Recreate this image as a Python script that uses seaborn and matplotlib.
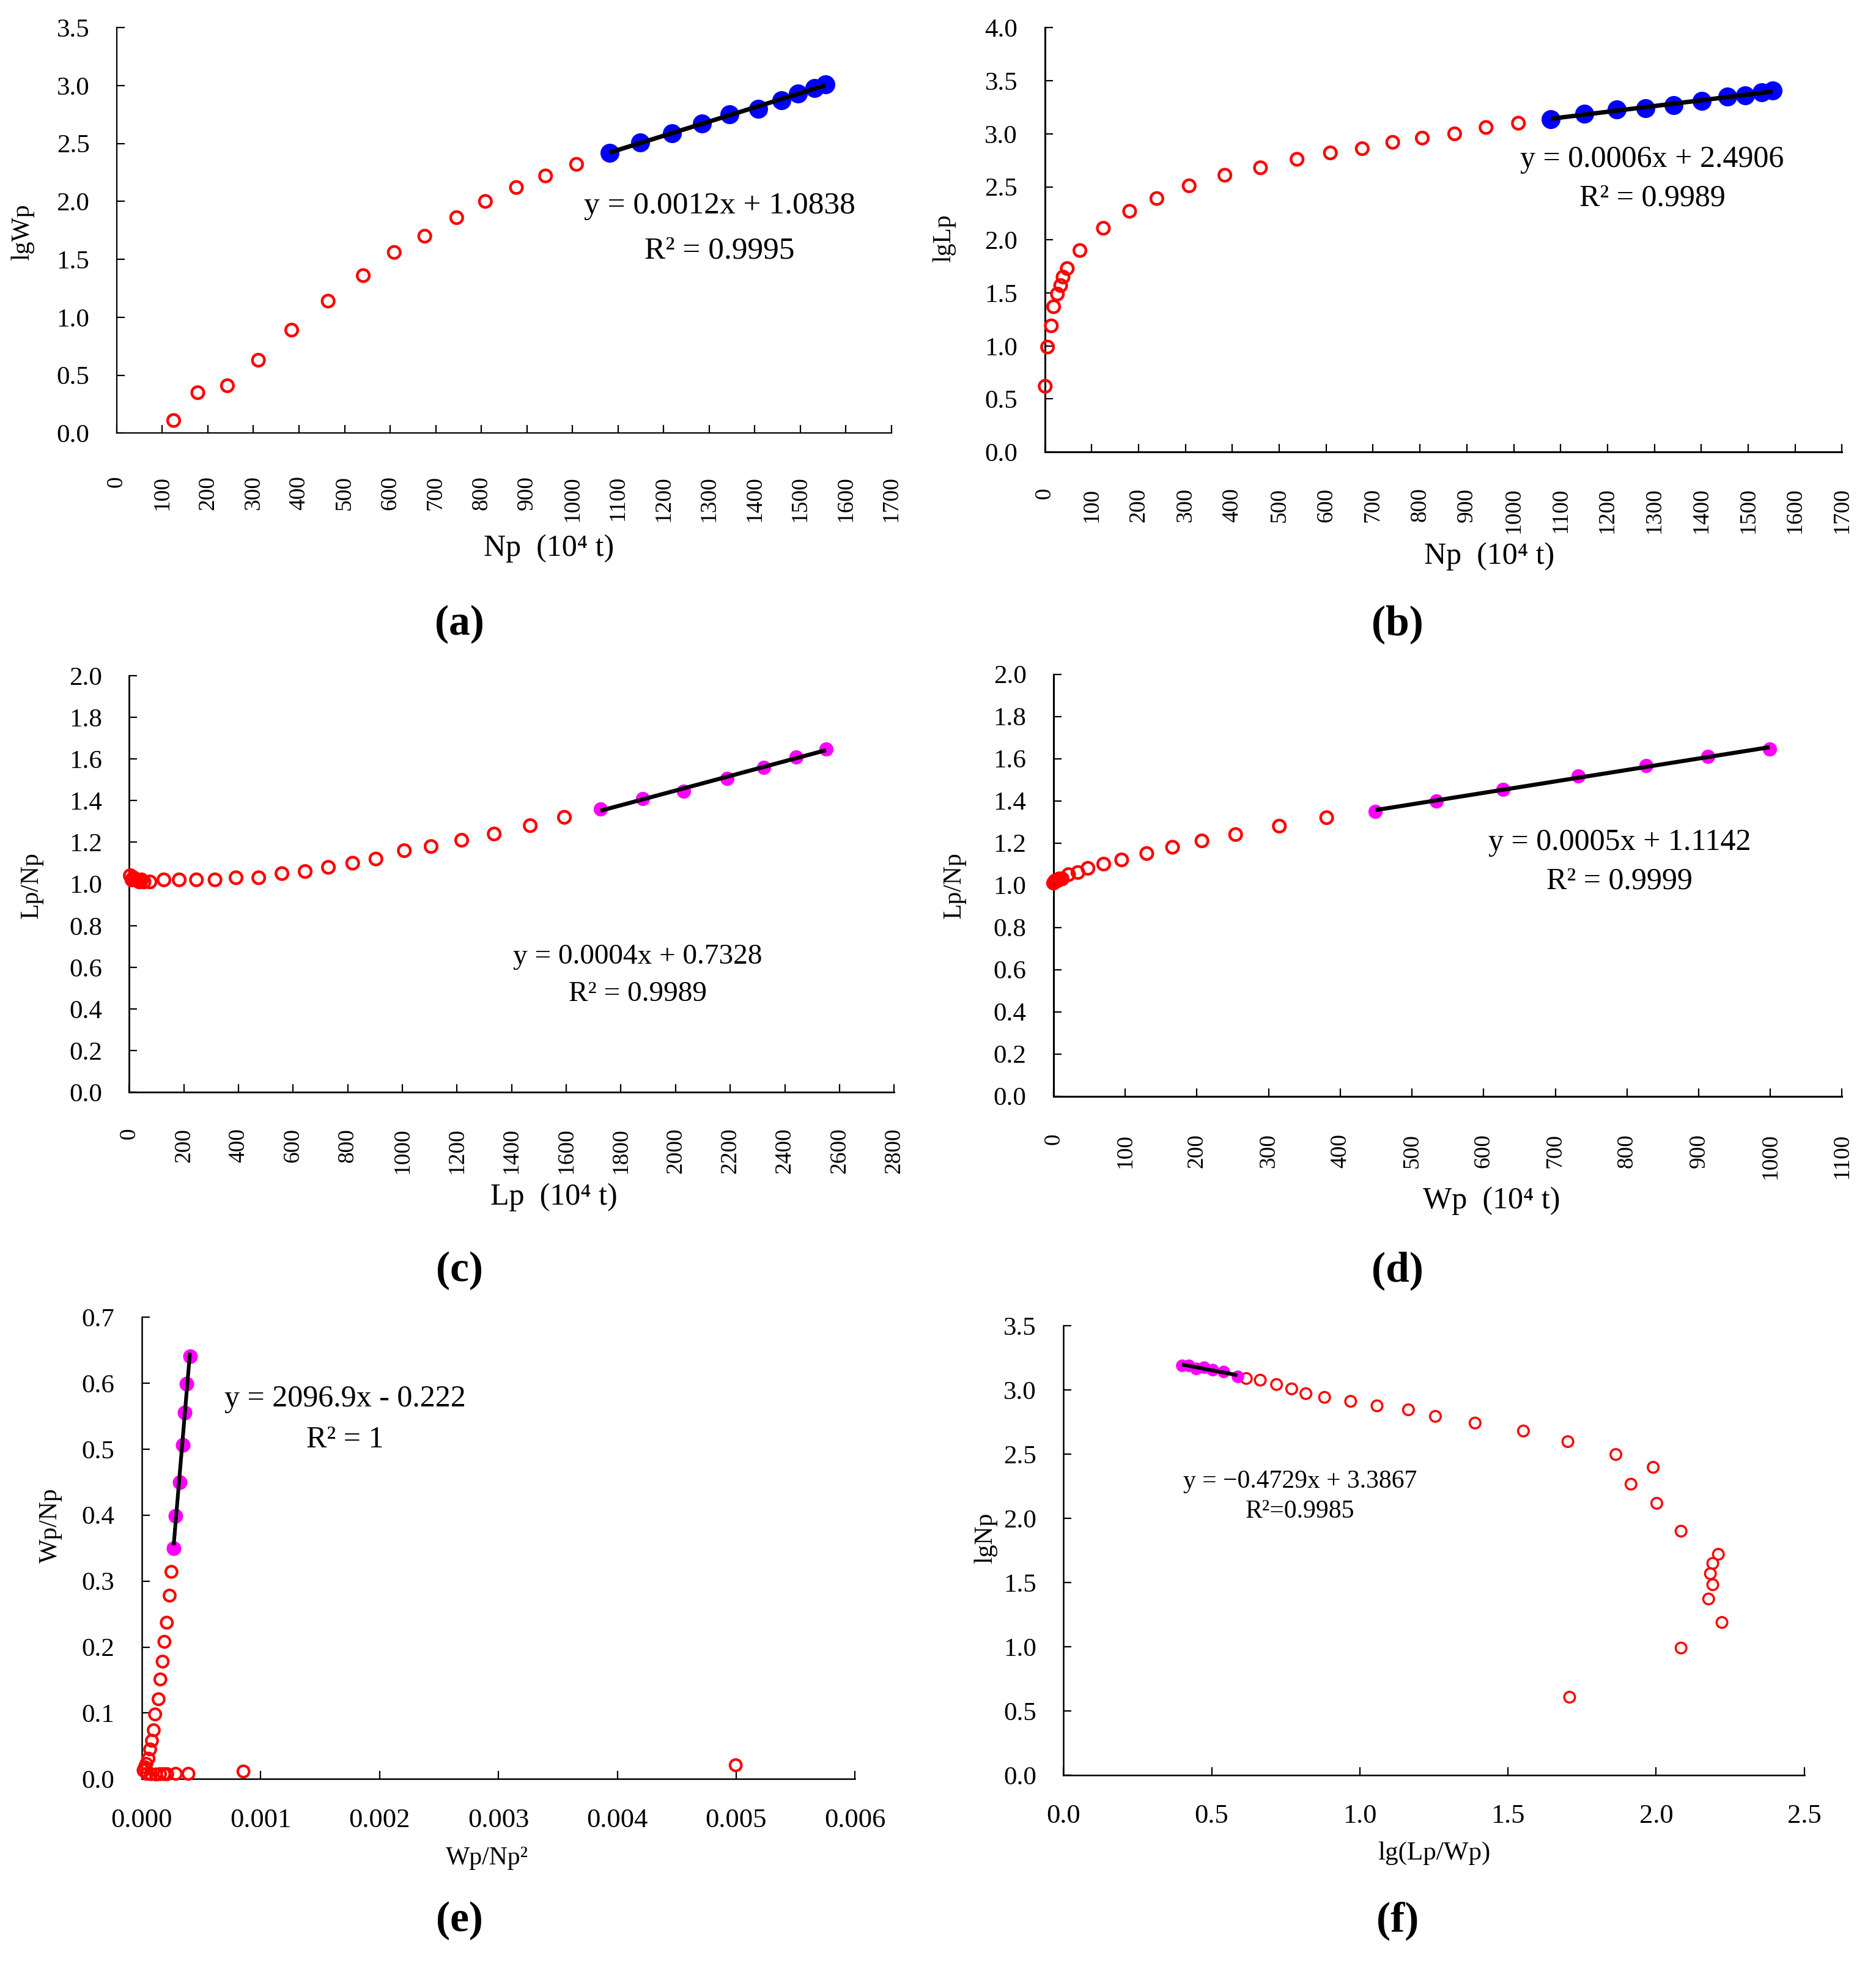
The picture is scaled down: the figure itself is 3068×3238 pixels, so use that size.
import numpy as np
import matplotlib
matplotlib.use("Agg")
import matplotlib.pyplot as plt
import seaborn as sns

# ---------------- data ----------------
# (a) lgWp vs Np
a_red_np = [125, 178, 243, 311, 384, 464, 541, 609, 676, 746, 809, 877, 941, 1009]
a_red_lgwp = [0.11, 0.35, 0.41, 0.63, 0.89, 1.14, 1.36, 1.56, 1.70, 1.86, 2.00, 2.12, 2.22, 2.32]
a_fit_np = [1082, 1149, 1218, 1284, 1345, 1407, 1459, 1495, 1531, 1555]
a_fit_lgwp = [2.42, 2.51, 2.59, 2.67, 2.75, 2.80, 2.87, 2.93, 2.98, 3.01]

# (b) lgLp vs Np
b_red_np = [1, 6, 14, 19, 27, 34, 39, 48, 75, 125, 181, 239, 308, 384, 460, 538, 609, 677, 742, 805, 874, 941, 1010]
b_red_lglp = [0.62, 0.99, 1.19, 1.37, 1.49, 1.57, 1.65, 1.73, 1.90, 2.11, 2.27, 2.39, 2.51, 2.61, 2.68, 2.76,
              2.82, 2.86, 2.92, 2.96, 3.00, 3.06, 3.10]
b_fit_np = [1079, 1150, 1219, 1281, 1341, 1401, 1456, 1494, 1528, 1552]
b_fit_lglp = [3.14, 3.19, 3.23, 3.24, 3.27, 3.31, 3.35, 3.36, 3.39, 3.41]

# (c) Lp/Np vs Lp
c_red_lp = [4, 10, 16, 23, 31, 37, 45, 54, 76, 127, 183, 246, 314, 391, 474, 559, 644, 729, 818, 903,
            1007, 1105, 1217, 1336, 1468, 1593]
c_red_ratio = [1.04, 1.02, 1.03, 1.02, 1.02, 1.01, 1.02, 1.01, 1.01, 1.02, 1.02, 1.02, 1.02, 1.03, 1.03,
               1.05, 1.06, 1.08, 1.10, 1.12, 1.16, 1.18, 1.21, 1.24, 1.28, 1.32]
c_fit_lp = [1725, 1880, 2029, 2188, 2322, 2441, 2551]
c_fit_ratio = [1.36, 1.41, 1.445, 1.507, 1.558, 1.609, 1.648]

# (d) Lp/Np vs Wp
d_red_wp = [0, 2, 5, 8, 12, 21, 34, 48, 70, 95, 130, 166, 207, 254, 315, 381]
d_red_ratio = [1.01, 1.02, 1.02, 1.03, 1.03, 1.05, 1.06, 1.08, 1.10, 1.12, 1.15, 1.18, 1.21, 1.24, 1.28, 1.32]
d_fit_wp = [449, 534, 627, 732, 827, 913, 999]
d_fit_ratio = [1.35, 1.40, 1.454, 1.517, 1.567, 1.609, 1.644]

# (e) Wp/Np vs Wp/Np^2
e_red_x = [0.000015, 0.000026, 0.000038, 0.000056, 0.000070, 0.000085, 0.000100, 0.000112, 0.000141,
           0.000156, 0.000175, 0.000190, 0.000210, 0.000234, 0.000249,
           0.000043, 0.000077, 0.000119, 0.000153, 0.000187, 0.000213, 0.000286, 0.000392,
           0.000855, 0.004996]
e_red_y = [0.013, 0.018, 0.023, 0.031, 0.045, 0.058, 0.074, 0.098, 0.121,
           0.151, 0.178, 0.208, 0.237, 0.278, 0.314,
           0.008, 0.0075, 0.007, 0.0075, 0.0075, 0.0075, 0.008, 0.008,
           0.0115, 0.021]
e_fit_x = [0.000268, 0.000283, 0.000317, 0.000346, 0.000361, 0.000375, 0.000405]
e_fit_y = [0.350, 0.399, 0.450, 0.506, 0.555, 0.599, 0.641]

# (f) lgNp vs lg(Lp/Wp)
f_red_x = [0.617, 0.664, 0.719, 0.770, 0.818, 0.881, 0.969, 1.058, 1.164, 1.255, 1.389, 1.552, 1.702,
           1.864, 1.990, 1.915, 2.002, 2.084, 2.210, 2.191, 2.183, 2.191, 2.177, 2.222, 2.084, 1.708]
f_red_y = [3.09, 3.077, 3.043, 3.009, 2.972, 2.943, 2.912, 2.877, 2.846, 2.795, 2.743, 2.681, 2.598,
           2.498, 2.398, 2.267, 2.118, 1.901, 1.721, 1.650, 1.570, 1.484, 1.373, 1.190, 0.991, 0.608]
f_fit_x = [0.400, 0.422, 0.448, 0.474, 0.503, 0.541, 0.587]
f_fit_y = [3.192, 3.192, 3.168, 3.176, 3.160, 3.142, 3.105]

equations = ["y = 0.0012x + 1.0838", "y = 0.0006x + 2.4906", "y = 0.0004x + 0.7328",
             "y = 0.0005x + 1.1142", "y = 2096.9x - 0.222", "y = \u22120.4729x + 3.3867"]
r2_texts = ["R\u00b2 = 0.9995", "R\u00b2 = 0.9989", "R\u00b2 = 0.9989",
            "R\u00b2 = 0.9999", "R\u00b2 = 1", "R\u00b2=0.9985"]
panel_tags = ["(a)", "(b)", "(c)", "(d)", "(e)", "(f)"]
x_titles = ["Np  (10\u2074 t)", "Np  (10\u2074 t)", "Lp  (10\u2074 t)", "Wp  (10\u2074 t)",
            "Wp/Np\u00b2", "lg(Lp/Wp)"]
y_titles = ["lgWp", "lgLp", "Lp/Np", "Lp/Np", "Wp/Np", "lgNp"]

# ---------------- style ----------------
sns.set_theme(style="white")
FAM = ["Liberation Serif", "DejaVu Serif"]
plt.rcParams["font.family"] = FAM
plt.rcParams["axes.edgecolor"] = "black"
plt.rcParams["xtick.color"] = "black"
plt.rcParams["ytick.color"] = "black"
plt.rcParams["text.color"] = "black"
plt.rcParams["axes.unicode_minus"] = True

fig = plt.figure(figsize=(15.34, 16.19), dpi=200)

# axes rectangles (figure fraction)
rects = [
    [0.0622, 0.7812, 0.4130, 0.2049],
    [0.5569, 0.7717, 0.4250, 0.2143],
    [0.0689, 0.4483, 0.4077, 0.2105],
    [0.5616, 0.4464, 0.4203, 0.2131],
    [0.0756, 0.1015, 0.3802, 0.2333],
    [0.5669, 0.1034, 0.3949, 0.2270],
]
axes = [fig.add_axes(r) for r in rects]

RED = "#FF0000"
BLUE = "#0000FF"
MAG = "#FF00FF"


def hollow(ax, x, y, s=50, lw=1.6):
    sns.scatterplot(x=x, y=y, ax=ax, marker="o", s=s, color=RED, facecolor="none",
                    edgecolor=RED, linewidth=lw, clip_on=False, zorder=3)


def filled(ax, x, y, color, s):
    sns.scatterplot(x=x, y=y, ax=ax, marker="o", s=s, color=color, edgecolor=color,
                    linewidth=0, clip_on=False, zorder=3)


def fitline(ax, x, y, lw):
    sns.regplot(x=np.array(x), y=np.array(y), ax=ax, scatter=False, ci=None, truncate=True,
                color="black", line_kws={"linewidth": lw, "zorder": 4, "solid_capstyle": "butt"})


def style(ax, xlim, ylim, xt, yt, xfmt, yfmt, rot, xpad, xsize, slw):
    ax.set_xlim(*xlim)
    ax.set_ylim(*ylim)
    ax.set_xticks(xt, labels=[xfmt.format(v) for v in xt], rotation=rot)
    ax.set_yticks(yt, labels=[yfmt.format(v) for v in yt])
    sns.despine(ax=ax)
    for sp in ("left", "bottom"):
        ax.spines[sp].set_linewidth(slw)
        ax.spines[sp].set_color("black")
    ax.tick_params(axis="x", direction="in", length=4.7, width=0.8, pad=xpad, labelsize=xsize,
                   bottom=True)
    ax.tick_params(axis="y", direction="in", length=4.7, width=0.8, pad=16, labelsize=15.5, left=True)
    ax.set_xlabel("")
    ax.set_ylabel("")
    ax.grid(False)


# (a)
ax = axes[0]
hollow(ax, a_red_np, a_red_lgwp)
filled(ax, a_fit_np, a_fit_lgwp, BLUE, 125)
fitline(ax, a_fit_np, a_fit_lgwp, 2.6)
style(ax, (0, 1700), (0, 3.5), np.arange(0, 1701, 100), np.arange(0, 3.51, 0.5), "{:.0f}", "{:.1f}",
      90, 25, 13.5, 0.8)

# (b)
ax = axes[1]
hollow(ax, b_red_np, b_red_lglp)
filled(ax, b_fit_np, b_fit_lglp, BLUE, 125)
fitline(ax, b_fit_np, b_fit_lglp, 2.6)
style(ax, (0, 1700), (0, 4.0), np.arange(0, 1701, 100), np.arange(0, 4.01, 0.5), "{:.0f}", "{:.1f}",
      90, 21, 13.5, 1.1)

# (c)
ax = axes[2]
hollow(ax, c_red_lp, c_red_ratio)
filled(ax, c_fit_lp, c_fit_ratio, MAG, 70)
fitline(ax, c_fit_lp, c_fit_ratio, 2.4)
style(ax, (0, 2800), (0, 2.0), np.arange(0, 2801, 200), np.arange(0, 2.01, 0.2), "{:.0f}", "{:.1f}",
      90, 21, 13.5, 1.0)

# (d)
ax = axes[3]
hollow(ax, d_red_wp, d_red_ratio)
filled(ax, d_fit_wp, d_fit_ratio, MAG, 70)
fitline(ax, d_fit_wp, d_fit_ratio, 2.4)
style(ax, (0, 1100), (0, 2.0), np.arange(0, 1101, 100), np.arange(0, 2.01, 0.2), "{:.0f}", "{:.1f}",
      90, 22, 13.5, 1.1)

# (e)
ax = axes[4]
hollow(ax, e_red_x, e_red_y, s=45, lw=1.5)
filled(ax, e_fit_x, e_fit_y, MAG, 75)
fitline(ax, e_fit_x, e_fit_y, 2.2)
style(ax, (0, 0.006), (0, 0.7), np.arange(0, 0.00601, 0.001), np.arange(0, 0.701, 0.1), "{:.3f}", "{:.1f}",
      0, 17, 16, 0.9)

# (f)
ax = axes[5]
hollow(ax, f_red_x, f_red_y, s=40, lw=1.25)
filled(ax, f_fit_x, f_fit_y, MAG, 55)
fitline(ax, f_fit_x, f_fit_y, 2.2)
style(ax, (0, 2.5), (0, 3.5), np.arange(0, 2.51, 0.5), np.arange(0, 3.51, 0.5), "{:.1f}", "{:.1f}",
      0, 17, 16, 0.9)

# equations (axes fraction)
eq_pos = [(0.778, 0.560, 0.449), (0.762, 0.689, 0.598), (0.665, 0.325, 0.235),
          (0.718, 0.601, 0.509), (0.285, 0.823, 0.734), (0.319, 0.654, 0.587)]
eq_size = [18.5, 18, 17, 18, 18, 15]
for ax, (ex, ey, ry), eq, r2, fs in zip(axes, eq_pos, equations, r2_texts, eq_size):
    ax.text(ex, ey, eq, transform=ax.transAxes, ha="center", va="center", fontsize=fs, family=FAM)
    ax.text(ex, ry, r2, transform=ax.transAxes, ha="center", va="center", fontsize=fs, family=FAM)

# panel tags
tag_pos = [(0.245, 0.6848), (0.745, 0.6848), (0.245, 0.3583), (0.745, 0.3583), (0.245, 0.0298), (0.745, 0.0298)]
for (tx, ty), tag in zip(tag_pos, panel_tags):
    fig.text(tx, ty, tag, ha="center", va="center", fontsize=25, fontweight="bold", family=FAM)

# x titles
xt_pos = [(0.2925, 0.7229), (0.7938, 0.7190), (0.2952, 0.3955), (0.7952, 0.3934), (0.2597, 0.0615), (0.7644, 0.0640)]
xt_size = [18, 18, 18, 18, 15, 15.5]
for (tx, ty), t, fs in zip(xt_pos, x_titles, xt_size):
    fig.text(tx, ty, t, ha="center", va="center", fontsize=fs, family=FAM)

# y titles
yt_pos = [(0.0120, 0.8827), (0.5033, 0.8795), (0.0167, 0.5530), (0.5087, 0.5530), (0.0268, 0.2295), (0.5254, 0.2232)]
for (tx, ty), t in zip(yt_pos, y_titles):
    fig.text(tx, ty, t, ha="center", va="center", fontsize=15, rotation=90, family=FAM)

fig.savefig("out.png", dpi=200, facecolor="white")
